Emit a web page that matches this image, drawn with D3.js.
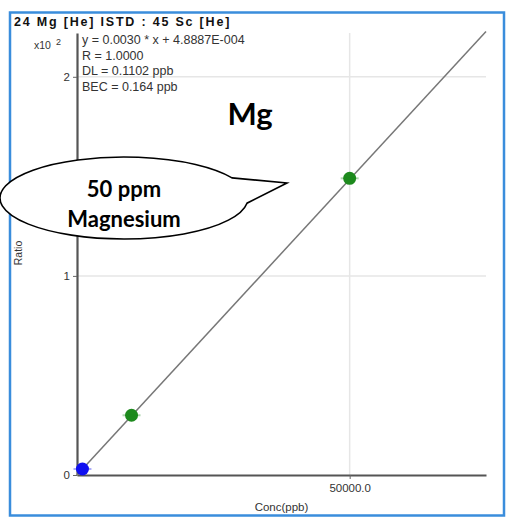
<!DOCTYPE html>
<html><head><meta charset="utf-8">
<script src="https://cdn.jsdelivr.net/npm/d3@7"></script>
<style>body{margin:0;background:#fff}svg{display:block}</style>
</head><body>
<svg id="c" width="506" height="518"></svg>
<script>
// Data
const title = "24 Mg [He] ISTD : 45 Sc [He]";
const infoLines = ["y = 0.0030 * x  + 4.8887E-004", "R = 1.0000", "DL = 0.1102 ppb", "BEC = 0.164 ppb"];
const blankConc = [1000];
const blankRatio = [0.03];
const stdConc = [10000, 50000];
const stdRatio = [0.30, 1.49];
const fitSlope = 0.0000297; // ratio (x10^2) per ppb
const yTicks = [0, 1, 2];
const xTicks = [50000];
const xTickLabels = ["50000.0"];
const element = "Mg";
const calloutLines = ["50 ppm", "Magnesium"];

const svg = d3.select("#c");
const L = 77, R = 486, T = 33, B = 475;
const x = d3.scaleLinear().domain([0, 75000]).range([L, R]);
const y = d3.scaleLinear().domain([0, 2.22]).range([B, T]);

// frame
svg.append("rect").attr("x", 10).attr("y", 12.5).attr("width", 494).attr("height", 503)
  .attr("fill", "#fff").attr("stroke", "#3a8ddc").attr("stroke-width", 2.5);

const lbl = "'Liberation Sans Narrow','Liberation Sans',Arial,sans-serif";

// title
svg.append("text").attr("x", 14).attr("y", 26).text(title)
  .attr("font-family", "'Liberation Sans',Arial,sans-serif").attr("font-weight", "bold")
  .attr("font-size", 12.5).attr("letter-spacing", 1.8).attr("fill", "#111");

// grid
svg.append("g").selectAll("line").data(yTicks.filter(d => d > 0)).join("line")
  .attr("x1", L).attr("x2", R).attr("y1", d => y(d)).attr("y2", d => y(d))
  .attr("stroke", "#e6e6e6").attr("stroke-width", 1.5);
svg.append("g").selectAll("line").data(xTicks).join("line")
  .attr("x1", d => x(d)).attr("x2", d => x(d)).attr("y1", T).attr("y2", B)
  .attr("stroke", "#e6e6e6").attr("stroke-width", 1.5);

// axes
const ya = svg.append("g").attr("transform", `translate(${L},0)`)
  .call(d3.axisLeft(y).tickValues(yTicks).tickFormat(d3.format("d")).tickSize(4).tickSizeOuter(0));
const xa = svg.append("g").attr("transform", `translate(0,${B})`)
  .call(d3.axisBottom(x).tickValues(xTicks).tickFormat((d, i) => xTickLabels[i]).tickSize(4).tickSizeOuter(0));
[ya, xa].forEach(a => {
  a.select(".domain").attr("stroke", "#555").attr("stroke-width", 2.2);
  a.selectAll(".tick line").attr("stroke", "#666");
  a.selectAll("text").attr("font-family", lbl).attr("font-size", 11.5).attr("fill", "#333");
});
xa.selectAll(".tick text").attr("dy", "0.9em");

// y unit & axis titles
svg.append("text").attr("x", 34).attr("y", 49).attr("font-family", lbl).attr("font-size", 10.5).attr("fill", "#333").text("x10");
svg.append("text").attr("x", 56).attr("y", 45).attr("font-family", lbl).attr("font-size", 9).attr("fill", "#333").text("2");
svg.append("text").attr("transform", `translate(22,253) rotate(-90)`).attr("text-anchor", "middle")
  .attr("font-family", lbl).attr("font-size", 10.5).attr("fill", "#333").text("Ratio");
svg.append("text").attr("x", (L + R) / 2).attr("y", 511).attr("text-anchor", "middle")
  .attr("font-family", lbl).attr("font-size", 11.5).attr("fill", "#333").text("Conc(ppb)");

// info text
svg.append("g").selectAll("text").data(infoLines).join("text")
  .attr("x", 82).attr("y", (d, i) => 44 + i * 15.5).text(d => d)
  .attr("font-family", lbl).attr("font-size", 12.5).attr("fill", "#333");

// fit line
svg.append("line").attr("x1", x(0)).attr("y1", y(0)).attr("x2", x(75000)).attr("y2", y(75000 * fitSlope))
  .attr("stroke", "#777").attr("stroke-width", 1.5);

// points
function pts(cx, cy, col) {
  const g = svg.append("g");
  g.selectAll("circle").data(cx).join("circle")
    .attr("cx", d => x(d)).attr("cy", (d, i) => y(cy[i])).attr("r", 6.5).attr("fill", col);
  g.selectAll("line").data(cx).join("line")
    .attr("x1", d => x(d) - 9).attr("x2", d => x(d) + 9)
    .attr("y1", (d, i) => y(cy[i])).attr("y2", (d, i) => y(cy[i]))
    .attr("stroke", col).attr("stroke-opacity", 0.35).attr("stroke-width", 2);
}
pts(blankConc, blankRatio, "#1010f0");
pts(stdConc, stdRatio, "#1d8a1d");

// element label
svg.append("text").attr("x", 250).attr("y", 125).attr("text-anchor", "middle")
  .attr("font-family", "Lato,'Open Sans',sans-serif").attr("font-weight", "bold").attr("font-size", 31)
  .attr("fill", "#000").text(element);

// callout
const cx0 = 124, cy0 = 198, rx = 124, ry = 41;
const calloutPath = (() => {
  const angA = Math.acos((232 - cx0) / rx);
  const yA = cy0 - ry * Math.sin(angA);
  const angB = Math.acos((247 - cx0) / rx);
  const yB = cy0 + ry * Math.sin(angB);
  return `M232,${yA} L287,183 L247,${yB} A${rx},${ry} 0 1 1 232,${yA} Z`;
})();
svg.append("path").attr("d", calloutPath).attr("fill", "#fff").attr("stroke", "#000").attr("stroke-width", 1.6);
svg.append("g").selectAll("text").data(calloutLines).join("text")
  .attr("x", 124).attr("y", (d, i) => 197 + i * 30).attr("text-anchor", "middle")
  .attr("font-family", "Lato,'Open Sans',sans-serif").attr("font-weight", "bold").attr("font-size", 22)
  .attr("fill", "#000").text(d => d);
</script>
</body></html>
